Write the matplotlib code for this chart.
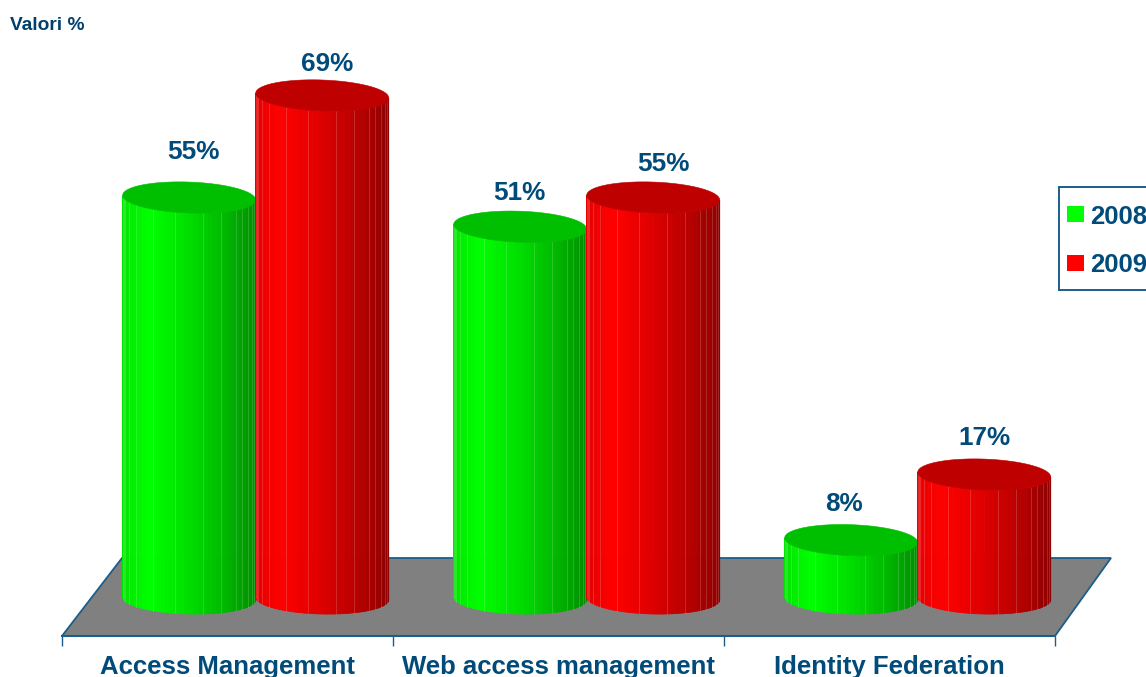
import numpy as np
import matplotlib
matplotlib.use("Agg")
import matplotlib.pyplot as plt
from matplotlib.patches import Patch, Polygon, Rectangle

categories = ["Access Management", "Web access management", "Identity Federation"]
years = ["2008", "2009"]
values_2008 = [55, 51, 8]
values_2009 = [69, 55, 17]
label_lift_2008 = [6.25, 4.6, 5.0]
label_lift_2009 = [4.3, 4.6, 5.0]
label_shift_2008 = [0.012, -0.003, -0.022]
label_shift_2009 = [0.015, 0.03, 0.0]

W, H = 1146, 677
NAVY = "#004B7A"
EDGE = "#1B5E8A"
FLOOR = "#808080"

FONT = "Liberation Sans"
PX_PER_UNIT = 7.29       # vertical pixels per percentage point
PX_PER_GROUP = 331.0     # horizontal pixels per category
BASE_PX = 598.5          # image row of the zero level (cylinder base centre)
AXIS_PX = 636            # image row of the front edge of the floor

fig = plt.figure(figsize=(W / 100, H / 100), dpi=100, facecolor="white")
ax = fig.add_axes([62 / W, (H - AXIS_PX) / H, (1055 - 62) / W, AXIS_PX / H])
ax.set_xlim(-0.5, 2.5)
ax.set_ylim((BASE_PX - AXIS_PX) / PX_PER_UNIT, BASE_PX / PX_PER_UNIT)
ax.patch.set_visible(False)

for side in ("top", "left", "right"):
    ax.spines[side].set_visible(False)
ax.spines["bottom"].set_color(EDGE)
ax.spines["bottom"].set_linewidth(1.5)
ax.yaxis.set_visible(False)

ax.set_xticks([-0.5, 0.5, 1.5, 2.5])
ax.set_xticklabels([])
ax.tick_params(axis="x", which="major", length=7.5, width=1.0, color=EDGE)
ax.set_xticks([0, 1, 2], minor=True)
ax.set_xticklabels(categories, minor=True, fontsize=18.5, fontweight="bold",
                   color=NAVY, family=FONT)
ax.tick_params(axis="x", which="minor", length=0, pad=14)

# Floor of the 3-D scene
y_front = ax.get_ylim()[0]
y_back = (BASE_PX - 558) / PX_PER_UNIT
floor = Polygon([(-0.5, y_front), (2.5, y_front),
                 (2.5 + 56 / PX_PER_GROUP, y_back), (-0.5 + 60 / PX_PER_GROUP, y_back)],
                closed=True, facecolor=FLOOR, edgecolor=EDGE, linewidth=1.3,
                clip_on=False, zorder=1)
ax.add_patch(floor)

DEPTH_SHIFT = 28.2 / PX_PER_GROUP
RX = 66.5 / PX_PER_GROUP
RY = 15.5 / PX_PER_UNIT
SHEAR = -0.035 * PX_PER_GROUP / PX_PER_UNIT
SEAMS = [1, 3, 4, 6, 9, 14, 19, 25, 29, 33, 35, 37, 39, 41]


def side_shade(t):
    """Brightness across the cylinder, t=0 at the left edge and t=1 at the right."""
    return np.interp(t, [0, 0.2, 0.5, 0.8, 1.0], [0.9, 1.0, 0.87, 0.7, 0.56])


def cylinder(cx, value, channel, top_colour, z):
    n = 44
    theta = np.linspace(np.pi, 0, n + 1)
    xs = cx + RX * np.cos(theta)
    skew = SHEAR * (xs - cx)
    bottom = -RY * np.sin(theta) + skew * 0.6
    top = value - RY * np.sin(theta) + skew
    for i in range(n):
        t = 0.5 * ((xs[i] + xs[i + 1]) / 2 - (cx - RX)) / RX
        rgb = [0.0, 0.0, 0.0]
        rgb[channel] = side_shade(t)
        ax.add_patch(Polygon([(xs[i], bottom[i]), (xs[i + 1], bottom[i + 1]),
                              (xs[i + 1], top[i + 1]), (xs[i], top[i])],
                             closed=True, facecolor=rgb, edgecolor=rgb, linewidth=0.6,
                             clip_on=False, zorder=z))
    # faint seams between some of the facets
    for i in SEAMS:
        ax.plot([xs[i]] * 2, [bottom[i], top[i]], color="white",
                alpha=0.16, linewidth=0.7, clip_on=False, zorder=z + 0.1)
    phi = np.linspace(0, 2 * np.pi, 90)
    ex = cx + RX * np.cos(phi)
    ey = value + RY * np.sin(phi) + SHEAR * (ex - cx)
    ax.add_patch(Polygon(np.column_stack([ex, ey]), closed=True, facecolor=top_colour,
                         edgecolor=top_colour, linewidth=0.4, clip_on=False, zorder=z + 0.2))


series = [
    (values_2008, -RX, 1, "#00BE00", label_lift_2008, label_shift_2008),
    (values_2009, RX, 0, "#BE0000", label_lift_2009, label_shift_2009),
]
for s, (vals, dx, channel, top_colour, lifts, shifts) in enumerate(series):
    for i, v in enumerate(vals):
        cx = i + DEPTH_SHIFT + dx
        cylinder(cx, v, channel, top_colour, 3 + s + i * 2)
        ax.text(cx + shifts[i], v + lifts[i], f"{v}%", ha="center", va="center",
                fontsize=18.8, fontweight="bold", color=NAVY, family=FONT, zorder=20)

fig.text(10 / W, 1 - 25.5 / H, "Valori %", ha="left", va="center", fontsize=13.8,
         fontweight="bold", color="#003F6E", family=FONT)

# Legend box runs past the right edge of the figure
fig.add_artist(Rectangle((1058.5 / W, 1 - 290 / H), 120 / W, 103 / H,
                         transform=fig.transFigure, facecolor="white",
                         edgecolor=EDGE, linewidth=1.4))
handles = [Patch(facecolor="#00FF00", edgecolor="none", label=years[0]),
           Patch(facecolor="#FF0000", edgecolor="none", label=years[1])]
leg = fig.legend(handles=handles, loc="upper left",
                 bbox_to_anchor=(1067 / W, 1 - 204.5 / H), borderaxespad=0,
                 prop={"family": FONT, "weight": "bold", "size": 18.5},
                 handlelength=0.66, handleheight=0.58, handletextpad=0.23,
                 labelspacing=0.97, borderpad=0, frameon=False, labelcolor=NAVY)

fig.savefig("out.png", dpi=100, facecolor="white")
